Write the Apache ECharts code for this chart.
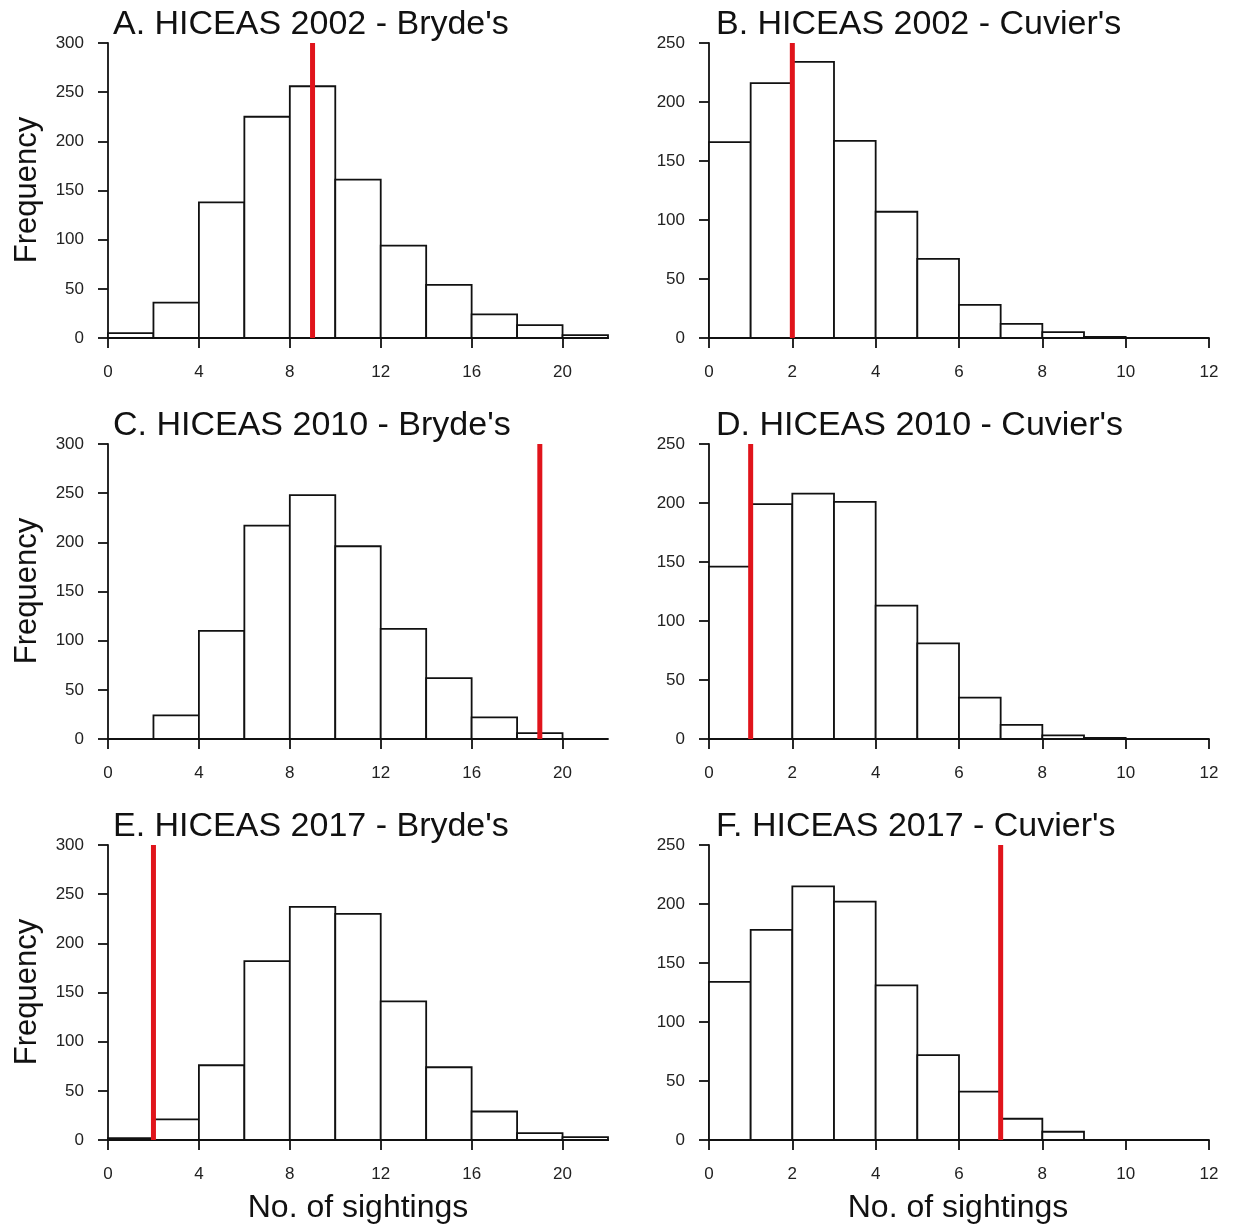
<!DOCTYPE html>
<html>
<head>
<meta charset="utf-8">
<script src="https://cdn.jsdelivr.net/npm/echarts@6/dist/echarts.min.js"></script>
<style>
  html, body { margin: 0; padding: 0; background: #fff; }
  #main { width: 1233px; height: 1228px; }
</style>
</head>
<body>
<div id="main"></div>
<script>
// bin edges
var brydeBreaks = [0, 2, 4, 6, 8, 10, 12, 14, 16, 18, 20, 22];
var cuvierBreaks = [0, 1, 2, 3, 4, 5, 6, 7, 8, 9, 10];

// simulated counts per bin
var brydes2002 = [5, 36, 138, 225, 256, 161, 94, 54, 24, 13, 3];
var cuviers2002 = [166, 216, 234, 167, 107, 67, 28, 12, 5, 1];
var brydes2010 = [0, 24, 110, 217, 248, 196, 112, 62, 22, 6, 0];
var cuviers2010 = [146, 199, 208, 201, 113, 81, 35, 12, 3, 1];
var brydes2017 = [2, 21, 76, 182, 237, 230, 141, 74, 29, 7, 3];
var cuviers2017 = [134, 178, 215, 202, 131, 72, 41, 18, 7, 0];

// observed number of sightings (red line)
var observed = [9, 2, 19, 1, 2, 7];

var titles = ["A. HICEAS 2002 - Bryde's", "B. HICEAS 2002 - Cuvier's",
              "C. HICEAS 2010 - Bryde's", "D. HICEAS 2010 - Cuvier's",
              "E. HICEAS 2017 - Bryde's", "F. HICEAS 2017 - Cuvier's"];
var counts = [brydes2002, cuviers2002, brydes2010, cuviers2010, brydes2017, cuviers2017];

var font = 'Arial, "Liberation Sans", sans-serif';
var myChart = echarts.init(document.getElementById('main'));

var rowTop = [43, 444, 845];
var grid = [], xAxis = [], yAxis = [], series = [], title = [], graphic = [];

for (var i = 0; i < 6; i++) {
    var isBryde = i % 2 === 0;
    var row = Math.floor(i / 2);
    var breaks = isBryde ? brydeBreaks : cuvierBreaks;
    var ymax = isBryde ? 300 : 250;

    grid.push({ left: isBryde ? 108 : 709, top: rowTop[row], width: 500, height: 295 });

    title.push({
        text: titles[i],
        left: isBryde ? 113 : 716,
        top: rowTop[row] - 35,
        padding: 0,
        textStyle: { fontFamily: font, fontSize: 34, fontWeight: 'normal', color: '#111' }
    });

    var xa = {
        type: 'value', gridIndex: i, min: 0, max: isBryde ? 22 : 12, interval: isBryde ? 4 : 2,
        splitLine: { show: false },
        axisLine: { onZero: false, lineStyle: { color: '#111', width: 1.8 } },
        axisTick: { length: 10, lineStyle: { color: '#111', width: 1.8 } },
        axisLabel: { margin: 26, fontFamily: font, fontSize: 17, color: '#222' }
    };
    if (isBryde) {
        xa.axisTick.customValues = [0, 4, 8, 12, 16, 20];
        xa.axisLabel.customValues = [0, 4, 8, 12, 16, 20];
    }
    xAxis.push(xa);

    yAxis.push({
        type: 'value', gridIndex: i, min: 0, max: ymax, interval: 50,
        splitLine: { show: false },
        axisLine: { show: true, lineStyle: { color: '#111', width: 1.8 } },
        axisTick: { show: true, length: 10, lineStyle: { color: '#111', width: 1.8 } },
        axisLabel: { margin: 24, fontFamily: font, fontSize: 17, color: '#222' }
    });

    var data = counts[i].map(function (c, k) { return [breaks[k], breaks[k + 1], c]; });
    series.push({
        type: 'custom', xAxisIndex: i, yAxisIndex: i,
        encode: { x: [0, 1], y: 2 },
        data: data,
        renderItem: function (params, api) {
            var p0 = api.coord([api.value(0), api.value(2)]);
            var p1 = api.coord([api.value(1), 0]);
            return {
                type: 'rect',
                shape: { x: p0[0], y: p0[1], width: p1[0] - p0[0], height: p1[1] - p0[1] },
                style: { fill: '#fff', stroke: '#111', lineWidth: 1.8 }
            };
        },
        z: 2
    });

    series.push({
        type: 'line', xAxisIndex: i, yAxisIndex: i,
        data: [[observed[i], 0], [observed[i], ymax]],
        symbol: 'none',
        lineStyle: { color: '#e0141b', width: 5 },
        z: 5
    });

    if (isBryde) {
        graphic.push({
            type: 'text', x: 27, y: rowTop[row] + 147, rotation: Math.PI / 2,
            style: { text: 'Frequency', font: '31px ' + font, fill: '#111', align: 'center', verticalAlign: 'middle' }
        });
    }
}

graphic.push({
    type: 'text', x: 358, y: 1208,
    style: { text: 'No. of sightings', font: '32px ' + font, fill: '#111', align: 'center', verticalAlign: 'middle' }
});
graphic.push({
    type: 'text', x: 958, y: 1208,
    style: { text: 'No. of sightings', font: '32px ' + font, fill: '#111', align: 'center', verticalAlign: 'middle' }
});

var option = {
    backgroundColor: '#fff',
    animation: false,
    title: title,
    grid: grid,
    xAxis: xAxis,
    yAxis: yAxis,
    series: series,
    graphic: graphic
};
myChart.setOption(option);
</script>
</body>
</html>
